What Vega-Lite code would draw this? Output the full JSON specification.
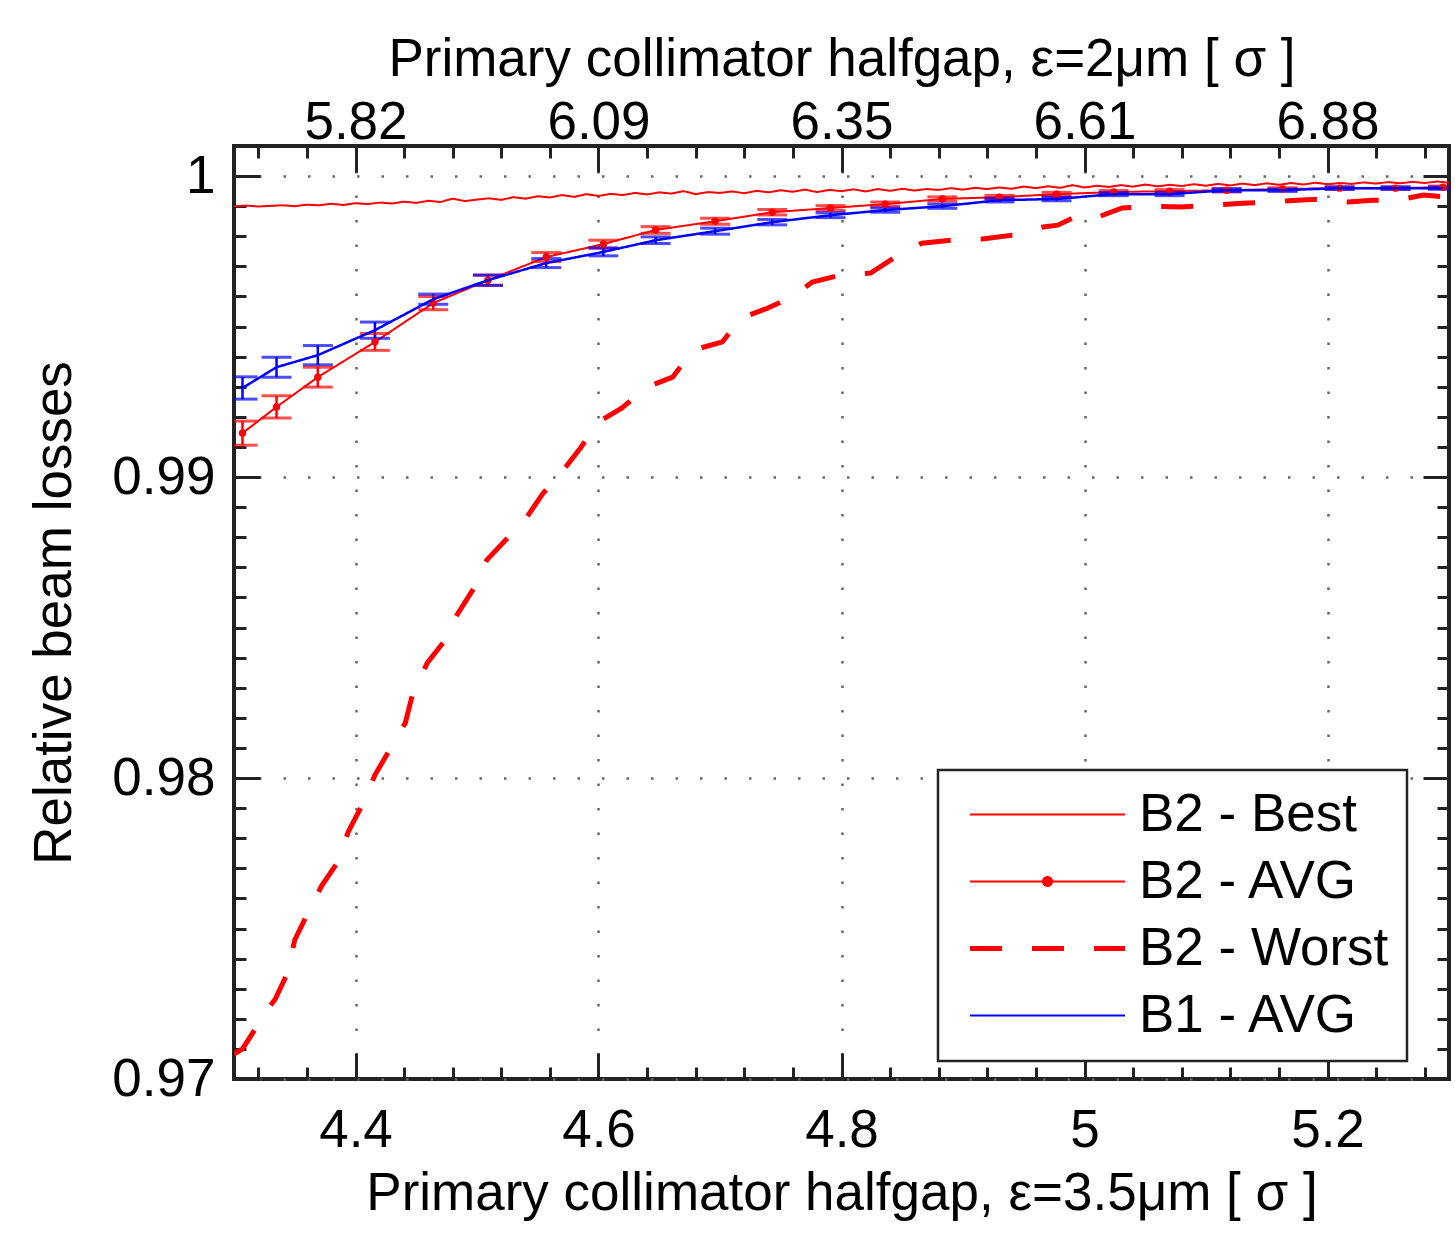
{
 "$schema": "https://vega.github.io/schema/vega-lite/v6.json",
 "width": 1215, "height": 933,
 "autosize": {"type": "none"},
 "padding": {"left": 234, "top": 146, "right": 6, "bottom": 165},
 "background": "white",
 "config": {
  "view": {"stroke": "#222", "strokeWidth": 4},
  "font": "Liberation Sans",
  "axis": {"labelFont": "Liberation Sans", "titleFont": "Liberation Sans", "labelFontSize": 53, "titleFontSize": 53, "titleFontWeight": "normal", "labelColor": "#000", "titleColor": "#000", "labelFlush": false, "labelOverlap": false, "tickColor": "#222", "tickWidth": 3, "domain": false, "grid": false, "zindex": 1},
  "legend": {"labelFont": "Liberation Sans", "labelFontSize": 53, "labelColor": "#000", "labelLimit": 0, "symbolSize": 400, "symbolStrokeWidth": 2, "symbolOffset": 65, "labelOffset": 65, "padding": 18, "rowPadding": 13, "strokeColor": "#222", "strokeWidth": 2.5, "fillColor": "#fff", "cornerRadius": 0}
 },
 "data": {"values": [
  {"series":"B2 - Best","x":4.30,"y":0.99900},{"series":"B2 - Best","x":4.31,"y":0.99902},{"series":"B2 - Best","x":4.32,"y":0.99899},{"series":"B2 - Best","x":4.33,"y":0.99901},{"series":"B2 - Best","x":4.34,"y":0.99903},{"series":"B2 - Best","x":4.35,"y":0.99900},{"series":"B2 - Best","x":4.36,"y":0.99905},{"series":"B2 - Best","x":4.37,"y":0.99903},{"series":"B2 - Best","x":4.38,"y":0.99908},{"series":"B2 - Best","x":4.39,"y":0.99904},
  {"series":"B2 - Best","x":4.40,"y":0.99910},{"series":"B2 - Best","x":4.41,"y":0.99907},{"series":"B2 - Best","x":4.42,"y":0.99912},{"series":"B2 - Best","x":4.43,"y":0.99909},{"series":"B2 - Best","x":4.44,"y":0.99915},{"series":"B2 - Best","x":4.45,"y":0.99911},{"series":"B2 - Best","x":4.46,"y":0.99918},{"series":"B2 - Best","x":4.47,"y":0.99914},{"series":"B2 - Best","x":4.48,"y":0.99925},{"series":"B2 - Best","x":4.49,"y":0.99917},
  {"series":"B2 - Best","x":4.50,"y":0.99922},{"series":"B2 - Best","x":4.51,"y":0.99926},{"series":"B2 - Best","x":4.52,"y":0.99921},{"series":"B2 - Best","x":4.53,"y":0.99930},{"series":"B2 - Best","x":4.54,"y":0.99925},{"series":"B2 - Best","x":4.55,"y":0.99933},{"series":"B2 - Best","x":4.56,"y":0.99929},{"series":"B2 - Best","x":4.57,"y":0.99937},{"series":"B2 - Best","x":4.58,"y":0.99931},{"series":"B2 - Best","x":4.59,"y":0.99940},
  {"series":"B2 - Best","x":4.60,"y":0.99934},{"series":"B2 - Best","x":4.61,"y":0.99941},{"series":"B2 - Best","x":4.62,"y":0.99937},{"series":"B2 - Best","x":4.63,"y":0.99944},{"series":"B2 - Best","x":4.64,"y":0.99939},{"series":"B2 - Best","x":4.65,"y":0.99946},{"series":"B2 - Best","x":4.66,"y":0.99942},{"series":"B2 - Best","x":4.67,"y":0.99950},{"series":"B2 - Best","x":4.68,"y":0.99940},{"series":"B2 - Best","x":4.69,"y":0.99947},
  {"series":"B2 - Best","x":4.70,"y":0.99944},{"series":"B2 - Best","x":4.71,"y":0.99949},{"series":"B2 - Best","x":4.72,"y":0.99943},{"series":"B2 - Best","x":4.73,"y":0.99951},{"series":"B2 - Best","x":4.74,"y":0.99946},{"series":"B2 - Best","x":4.75,"y":0.99953},{"series":"B2 - Best","x":4.76,"y":0.99948},{"series":"B2 - Best","x":4.77,"y":0.99955},{"series":"B2 - Best","x":4.78,"y":0.99947},{"series":"B2 - Best","x":4.79,"y":0.99954},
  {"series":"B2 - Best","x":4.80,"y":0.99950},{"series":"B2 - Best","x":4.81,"y":0.99956},{"series":"B2 - Best","x":4.82,"y":0.99949},{"series":"B2 - Best","x":4.83,"y":0.99957},{"series":"B2 - Best","x":4.84,"y":0.99951},{"series":"B2 - Best","x":4.85,"y":0.99958},{"series":"B2 - Best","x":4.86,"y":0.99952},{"series":"B2 - Best","x":4.87,"y":0.99957},{"series":"B2 - Best","x":4.88,"y":0.99954},{"series":"B2 - Best","x":4.89,"y":0.99960},
  {"series":"B2 - Best","x":4.90,"y":0.99955},{"series":"B2 - Best","x":4.91,"y":0.99961},{"series":"B2 - Best","x":4.92,"y":0.99957},{"series":"B2 - Best","x":4.93,"y":0.99962},{"series":"B2 - Best","x":4.94,"y":0.99958},{"series":"B2 - Best","x":4.95,"y":0.99965},{"series":"B2 - Best","x":4.96,"y":0.99960},{"series":"B2 - Best","x":4.97,"y":0.99966},{"series":"B2 - Best","x":4.98,"y":0.99961},{"series":"B2 - Best","x":4.99,"y":0.99970},
  {"series":"B2 - Best","x":5.00,"y":0.99962},{"series":"B2 - Best","x":5.01,"y":0.99968},{"series":"B2 - Best","x":5.02,"y":0.99964},{"series":"B2 - Best","x":5.03,"y":0.99970},{"series":"B2 - Best","x":5.04,"y":0.99965},{"series":"B2 - Best","x":5.05,"y":0.99972},{"series":"B2 - Best","x":5.06,"y":0.99966},{"series":"B2 - Best","x":5.07,"y":0.99971},{"series":"B2 - Best","x":5.08,"y":0.99967},{"series":"B2 - Best","x":5.09,"y":0.99973},
  {"series":"B2 - Best","x":5.10,"y":0.99968},{"series":"B2 - Best","x":5.11,"y":0.99974},{"series":"B2 - Best","x":5.12,"y":0.99969},{"series":"B2 - Best","x":5.13,"y":0.99975},{"series":"B2 - Best","x":5.14,"y":0.99970},{"series":"B2 - Best","x":5.15,"y":0.99976},{"series":"B2 - Best","x":5.16,"y":0.99971},{"series":"B2 - Best","x":5.17,"y":0.99977},{"series":"B2 - Best","x":5.18,"y":0.99972},{"series":"B2 - Best","x":5.19,"y":0.99978},
  {"series":"B2 - Best","x":5.20,"y":0.99973},{"series":"B2 - Best","x":5.21,"y":0.99977},{"series":"B2 - Best","x":5.22,"y":0.99974},{"series":"B2 - Best","x":5.23,"y":0.99979},{"series":"B2 - Best","x":5.24,"y":0.99975},{"series":"B2 - Best","x":5.25,"y":0.99980},{"series":"B2 - Best","x":5.26,"y":0.99976},{"series":"B2 - Best","x":5.27,"y":0.99981},{"series":"B2 - Best","x":5.28,"y":0.99977},{"series":"B2 - Best","x":5.29,"y":0.99982},{"series":"B2 - Best","x":5.30,"y":0.99978},

  {"series":"B2 - Worst","x":4.300,"y":0.97083},{"series":"B2 - Worst","x":4.307,"y":0.97100},{"series":"B2 - Worst","x":4.319,"y":0.97176},{"series":"B2 - Worst","x":4.326,"y":0.97223},{"series":"B2 - Worst","x":4.334,"y":0.97266},{"series":"B2 - Worst","x":4.344,"y":0.97352},{"series":"B2 - Worst","x":4.350,"y":0.97462},{"series":"B2 - Worst","x":4.360,"y":0.97545},{"series":"B2 - Worst","x":4.372,"y":0.97641},{"series":"B2 - Worst","x":4.385,"y":0.97718},
  {"series":"B2 - Worst","x":4.394,"y":0.97821},{"series":"B2 - Worst","x":4.406,"y":0.97914},{"series":"B2 - Worst","x":4.416,"y":0.98010},{"series":"B2 - Worst","x":4.428,"y":0.98093},{"series":"B2 - Worst","x":4.441,"y":0.98183},{"series":"B2 - Worst","x":4.447,"y":0.98279},{"series":"B2 - Worst","x":4.459,"y":0.98382},{"series":"B2 - Worst","x":4.472,"y":0.98449},{"series":"B2 - Worst","x":4.484,"y":0.98545},{"series":"B2 - Worst","x":4.497,"y":0.98628},
  {"series":"B2 - Worst","x":4.508,"y":0.98724},{"series":"B2 - Worst","x":4.525,"y":0.98797},{"series":"B2 - Worst","x":4.541,"y":0.98867},{"series":"B2 - Worst","x":4.554,"y":0.98944},{"series":"B2 - Worst","x":4.571,"y":0.99023},{"series":"B2 - Worst","x":4.585,"y":0.99096},{"series":"B2 - Worst","x":4.600,"y":0.99183},{"series":"B2 - Worst","x":4.619,"y":0.99229},{"series":"B2 - Worst","x":4.640,"y":0.99299},{"series":"B2 - Worst","x":4.661,"y":0.99332},
  {"series":"B2 - Worst","x":4.678,"y":0.99422},{"series":"B2 - Worst","x":4.702,"y":0.99449},{"series":"B2 - Worst","x":4.717,"y":0.99528},{"series":"B2 - Worst","x":4.739,"y":0.99561},{"series":"B2 - Worst","x":4.759,"y":0.99598},{"series":"B2 - Worst","x":4.776,"y":0.99648},{"series":"B2 - Worst","x":4.799,"y":0.99671},{"series":"B2 - Worst","x":4.824,"y":0.99678},{"series":"B2 - Worst","x":4.847,"y":0.99738},{"series":"B2 - Worst","x":4.866,"y":0.99777},
  {"series":"B2 - Worst","x":4.891,"y":0.99787},{"series":"B2 - Worst","x":4.916,"y":0.99791},{"series":"B2 - Worst","x":4.941,"y":0.99804},{"series":"B2 - Worst","x":4.966,"y":0.99831},{"series":"B2 - Worst","x":4.978,"y":0.99837},{"series":"B2 - Worst","x":4.995,"y":0.99870},{"series":"B2 - Worst","x":5.011,"y":0.99864},{"series":"B2 - Worst","x":5.031,"y":0.99894},{"series":"B2 - Worst","x":5.056,"y":0.99900},{"series":"B2 - Worst","x":5.080,"y":0.99897},
  {"series":"B2 - Worst","x":5.106,"y":0.99904},{"series":"B2 - Worst","x":5.130,"y":0.99910},{"series":"B2 - Worst","x":5.155,"y":0.99914},{"series":"B2 - Worst","x":5.175,"y":0.99920},{"series":"B2 - Worst","x":5.198,"y":0.99924},{"series":"B2 - Worst","x":5.217,"y":0.99914},{"series":"B2 - Worst","x":5.237,"y":0.99920},{"series":"B2 - Worst","x":5.257,"y":0.99920},{"series":"B2 - Worst","x":5.279,"y":0.99937},{"series":"B2 - Worst","x":5.298,"y":0.99930},

  {"series":"B2 - AVG","x":4.307,"y":0.99146,"lo":0.99106,"hi":0.99186},
  {"series":"B2 - AVG","x":4.335,"y":0.99233,"lo":0.99196,"hi":0.99270},
  {"series":"B2 - AVG","x":4.369,"y":0.99332,"lo":0.99299,"hi":0.99365},
  {"series":"B2 - AVG","x":4.416,"y":0.99449,"lo":0.99421,"hi":0.99477},
  {"series":"B2 - AVG","x":4.464,"y":0.99578,"lo":0.99556,"hi":0.99600},
  {"series":"B2 - AVG","x":4.509,"y":0.99654,"lo":0.99637,"hi":0.99671},
  {"series":"B2 - AVG","x":4.557,"y":0.99731,"lo":0.99716,"hi":0.99746},
  {"series":"B2 - AVG","x":4.604,"y":0.99774,"lo":0.99761,"hi":0.99787},
  {"series":"B2 - AVG","x":4.647,"y":0.99821,"lo":0.99810,"hi":0.99832},
  {"series":"B2 - AVG","x":4.696,"y":0.99850,"lo":0.99840,"hi":0.99860},
  {"series":"B2 - AVG","x":4.743,"y":0.99880,"lo":0.99871,"hi":0.99889},
  {"series":"B2 - AVG","x":4.791,"y":0.99894,"lo":0.99886,"hi":0.99902},
  {"series":"B2 - AVG","x":4.836,"y":0.99907,"lo":0.99900,"hi":0.99914},
  {"series":"B2 - AVG","x":4.883,"y":0.99924,"lo":0.99917,"hi":0.99931},
  {"series":"B2 - AVG","x":4.930,"y":0.99930,"lo":0.99924,"hi":0.99936},
  {"series":"B2 - AVG","x":4.977,"y":0.99940,"lo":0.99934,"hi":0.99946},
  {"series":"B2 - AVG","x":5.024,"y":0.99947,"lo":0.99942,"hi":0.99952},
  {"series":"B2 - AVG","x":5.070,"y":0.99950,"lo":0.99945,"hi":0.99955},
  {"series":"B2 - AVG","x":5.117,"y":0.99953,"lo":0.99948,"hi":0.99958},
  {"series":"B2 - AVG","x":5.163,"y":0.99957,"lo":0.99953,"hi":0.99961},
  {"series":"B2 - AVG","x":5.210,"y":0.99960,"lo":0.99956,"hi":0.99964},
  {"series":"B2 - AVG","x":5.256,"y":0.99960,"lo":0.99956,"hi":0.99964},
  {"series":"B2 - AVG","x":5.295,"y":0.99963,"lo":0.99959,"hi":0.99967},

  {"series":"B1 - AVG","x":4.307,"y":0.99296,"lo":0.99259,"hi":0.99333},
  {"series":"B1 - AVG","x":4.335,"y":0.99365,"lo":0.99332,"hi":0.99398},
  {"series":"B1 - AVG","x":4.369,"y":0.99405,"lo":0.99373,"hi":0.99437},
  {"series":"B1 - AVG","x":4.416,"y":0.99488,"lo":0.99461,"hi":0.99515},
  {"series":"B1 - AVG","x":4.464,"y":0.99591,"lo":0.99574,"hi":0.99608},
  {"series":"B1 - AVG","x":4.509,"y":0.99654,"lo":0.99637,"hi":0.99671},
  {"series":"B1 - AVG","x":4.557,"y":0.99711,"lo":0.99696,"hi":0.99726},
  {"series":"B1 - AVG","x":4.604,"y":0.99748,"lo":0.99735,"hi":0.99761},
  {"series":"B1 - AVG","x":4.647,"y":0.99787,"lo":0.99776,"hi":0.99798},
  {"series":"B1 - AVG","x":4.696,"y":0.99817,"lo":0.99807,"hi":0.99827},
  {"series":"B1 - AVG","x":4.743,"y":0.99847,"lo":0.99838,"hi":0.99856},
  {"series":"B1 - AVG","x":4.791,"y":0.99870,"lo":0.99862,"hi":0.99878},
  {"series":"B1 - AVG","x":4.836,"y":0.99887,"lo":0.99880,"hi":0.99894},
  {"series":"B1 - AVG","x":4.883,"y":0.99900,"lo":0.99893,"hi":0.99907},
  {"series":"B1 - AVG","x":4.930,"y":0.99920,"lo":0.99914,"hi":0.99926},
  {"series":"B1 - AVG","x":4.977,"y":0.99924,"lo":0.99918,"hi":0.99930},
  {"series":"B1 - AVG","x":5.024,"y":0.99940,"lo":0.99935,"hi":0.99945},
  {"series":"B1 - AVG","x":5.070,"y":0.99940,"lo":0.99935,"hi":0.99945},
  {"series":"B1 - AVG","x":5.117,"y":0.99953,"lo":0.99948,"hi":0.99958},
  {"series":"B1 - AVG","x":5.163,"y":0.99953,"lo":0.99949,"hi":0.99957},
  {"series":"B1 - AVG","x":5.210,"y":0.99960,"lo":0.99956,"hi":0.99964},
  {"series":"B1 - AVG","x":5.256,"y":0.99960,"lo":0.99956,"hi":0.99964},
  {"series":"B1 - AVG","x":5.295,"y":0.99960,"lo":0.99956,"hi":0.99964}
 ]},
 "resolve": {"axis": {"x": "independent", "y": "independent"}},
 "layer": [
  {
   "transform": [{"filter": "datum.series !== 'B1 - AVG'"}],
   "mark": {"type": "line", "clip": true},
   "encoding": {
    "x": {"field": "x", "type": "quantitative", "scale": {"domain": [4.3, 5.3], "nice": false, "zero": false},
      "axis": {"orient": "bottom", "values": [4.4, 4.6, 4.8, 5, 5.2], "format": "~g", "ticks": false, "grid": true, "gridDash": [2.5, 22], "gridColor": "#666", "gridWidth": 2.5, "labelPadding": 25, "title": "Primary collimator halfgap, ε=3.5μm [ σ ]", "titlePadding": 10}},
    "y": {"field": "y", "type": "quantitative", "scale": {"domain": [0.97, 1.001], "nice": false, "zero": false},
      "axis": {"orient": "left", "values": [0.97, 0.98, 0.99, 1], "format": "~g", "ticks": false, "grid": true, "gridDash": [2.5, 22], "gridColor": "#666", "gridWidth": 2.5, "labelPadding": 19, "title": "Relative beam losses", "titlePadding": 30}},
    "color": {"field": "series", "type": "nominal", "scale": {"domain": ["B2 - Best", "B2 - AVG", "B2 - Worst", "B1 - AVG"], "range": ["#ff0000", "#ff0000", "#ff0000", "#0000ff"]},
      "legend": {"title": null, "orient": "none", "legendX": 704, "legendY": 624,
        "encode": {"symbols": {"update": {
          "shape": {"signal": "datum.label === 'B2 - AVG' ? 'M-7.75,0H7.75M0.45,0A0.45,0.45 0 1,1 -0.45,0A0.45,0.45 0 1,1 0.45,0Z' : 'M-7.75,0H7.75'"},
          "fill": {"signal": "datum.label === 'B2 - AVG' ? '#ff0000' : 'transparent'"},
          "strokeWidth": {"signal": "datum.label === 'B2 - Worst' ? 5 : 2"}}}}}},
    "strokeDash": {"field": "series", "type": "nominal", "scale": {"domain": ["B2 - Best", "B2 - AVG", "B2 - Worst", "B1 - AVG"], "range": [[1, 0], [1, 0], [32, 30], [1, 0]]},
      "legend": {"title": null, "orient": "none", "legendX": 704, "legendY": 624}},
    "strokeWidth": {"condition": {"test": "datum.series === 'B2 - Worst'", "value": 5}, "value": 2}
   }
  },
  {
   "transform": [{"filter": "isValid(datum.lo)"}],
   "mark": {"type": "rule", "strokeWidth": 2.5, "clip": true},
   "encoding": {
    "x": {"field": "x", "type": "quantitative", "scale": {"domain": [4.3, 5.3], "nice": false, "zero": false},
      "axis": {"orient": "bottom", "values": [4.4, 4.6, 4.8, 5, 5.2], "labels": false, "tickSize": 26, "offset": -26, "title": null}},
    "y": {"field": "lo", "type": "quantitative", "scale": {"domain": [0.97, 1.001], "nice": false, "zero": false},
      "axis": {"orient": "left", "values": [0.97, 0.98, 0.99, 1], "labels": false, "tickSize": 26, "offset": -26, "title": null}},
    "y2": {"field": "hi"},
    "color": {"condition": {"test": "datum.series === 'B1 - AVG'", "value": "#0000ff"}, "value": "#ff0000"}
   }
  },
  {
   "transform": [{"filter": "isValid(datum.lo)"}],
   "mark": {"type": "tick", "orient": "horizontal", "size": 30, "thickness": 3, "clip": true},
   "encoding": {
    "x": {"field": "x", "type": "quantitative", "scale": {"domain": [4.3, 5.3], "nice": false, "zero": false},
      "axis": {"orient": "bottom", "values": [4.32, 4.36, 4.40, 4.44, 4.48, 4.52, 4.56, 4.60, 4.64, 4.68, 4.72, 4.76, 4.80, 4.84, 4.88, 4.92, 4.96, 5.00, 5.04, 5.08, 5.12, 5.16, 5.20, 5.24, 5.28], "labels": false, "tickSize": 12, "offset": -12, "title": null}},
    "y": {"field": "lo", "type": "quantitative", "scale": {"domain": [0.97, 1.001], "nice": false, "zero": false},
      "axis": {"orient": "left", "values": [0.971, 0.972, 0.973, 0.974, 0.975, 0.976, 0.977, 0.978, 0.979, 0.981, 0.982, 0.983, 0.984, 0.985, 0.986, 0.987, 0.988, 0.989, 0.991, 0.992, 0.993, 0.994, 0.995, 0.996, 0.997, 0.998, 0.999], "labels": false, "tickSize": 12, "offset": -12, "title": null}},
    "color": {"condition": {"test": "datum.series === 'B1 - AVG'", "value": "#0000ff"}, "value": "#ff0000"}
   }
  },
  {
   "transform": [{"filter": "isValid(datum.hi)"}],
   "mark": {"type": "tick", "orient": "horizontal", "size": 30, "thickness": 3, "clip": true},
   "encoding": {
    "x": {"field": "x", "type": "quantitative", "scale": {"domain": [4.3, 5.3], "nice": false, "zero": false},
      "axis": {"orient": "top", "values": [4.4, 4.6, 4.8, 5, 5.2], "labelExpr": "format(datum.value * 1.322876, '.2f')", "ticks": false, "labelPadding": 8, "labelBaseline": "alphabetic", "title": "Primary collimator halfgap, ε=2μm [ σ ]", "titlePadding": 10}},
    "y": {"field": "hi", "type": "quantitative", "scale": {"domain": [0.97, 1.001], "nice": false, "zero": false},
      "axis": {"orient": "right", "values": [0.97, 0.98, 0.99, 1], "labels": false, "tickSize": 26, "offset": -26, "title": null}},
    "color": {"condition": {"test": "datum.series === 'B1 - AVG'", "value": "#0000ff"}, "value": "#ff0000"}
   }
  },
  {
   "transform": [{"filter": "datum.series === 'B2 - AVG'"}],
   "mark": {"type": "point", "filled": true, "size": 55, "opacity": 1, "color": "#ff0000", "clip": true},
   "encoding": {
    "x": {"field": "x", "type": "quantitative", "scale": {"domain": [4.3, 5.3], "nice": false, "zero": false},
      "axis": {"orient": "top", "values": [4.4, 4.6, 4.8, 5, 5.2], "labels": false, "tickSize": 26, "offset": -26, "title": null}},
    "y": {"field": "y", "type": "quantitative", "scale": {"domain": [0.97, 1.001], "nice": false, "zero": false},
      "axis": {"orient": "right", "values": [0.971, 0.972, 0.973, 0.974, 0.975, 0.976, 0.977, 0.978, 0.979, 0.981, 0.982, 0.983, 0.984, 0.985, 0.986, 0.987, 0.988, 0.989, 0.991, 0.992, 0.993, 0.994, 0.995, 0.996, 0.997, 0.998, 0.999], "labels": false, "tickSize": 12, "offset": -12, "title": null}}
   }
  },
  {
   "transform": [{"filter": "datum.series === 'B1 - AVG'"}],
   "mark": {"type": "line", "clip": true, "strokeWidth": 2.5},
   "encoding": {
    "x": {"field": "x", "type": "quantitative", "scale": {"domain": [4.3, 5.3], "nice": false, "zero": false},
      "axis": {"orient": "top", "values": [4.32, 4.36, 4.40, 4.44, 4.48, 4.52, 4.56, 4.60, 4.64, 4.68, 4.72, 4.76, 4.80, 4.84, 4.88, 4.92, 4.96, 5.00, 5.04, 5.08, 5.12, 5.16, 5.20, 5.24, 5.28], "labels": false, "tickSize": 12, "offset": -12, "title": null}},
    "y": {"field": "y", "type": "quantitative", "scale": {"domain": [0.97, 1.001], "nice": false, "zero": false}, "axis": null},
    "color": {"field": "series", "type": "nominal", "scale": {"domain": ["B2 - Best", "B2 - AVG", "B2 - Worst", "B1 - AVG"], "range": ["#ff0000", "#ff0000", "#ff0000", "#0000ff"]},
      "legend": {"title": null, "orient": "none", "legendX": 704, "legendY": 624,
        "encode": {"symbols": {"update": {
          "shape": {"signal": "datum.label === 'B2 - AVG' ? 'M-7.75,0H7.75M0.45,0A0.45,0.45 0 1,1 -0.45,0A0.45,0.45 0 1,1 0.45,0Z' : 'M-7.75,0H7.75'"},
          "fill": {"signal": "datum.label === 'B2 - AVG' ? '#ff0000' : 'transparent'"},
          "strokeWidth": {"signal": "datum.label === 'B2 - Worst' ? 5 : 2"}}}}}},
    "strokeDash": {"field": "series", "type": "nominal", "scale": {"domain": ["B2 - Best", "B2 - AVG", "B2 - Worst", "B1 - AVG"], "range": [[1, 0], [1, 0], [32, 30], [1, 0]]},
      "legend": {"title": null, "orient": "none", "legendX": 704, "legendY": 624}}
   }
  }
 ]
}
